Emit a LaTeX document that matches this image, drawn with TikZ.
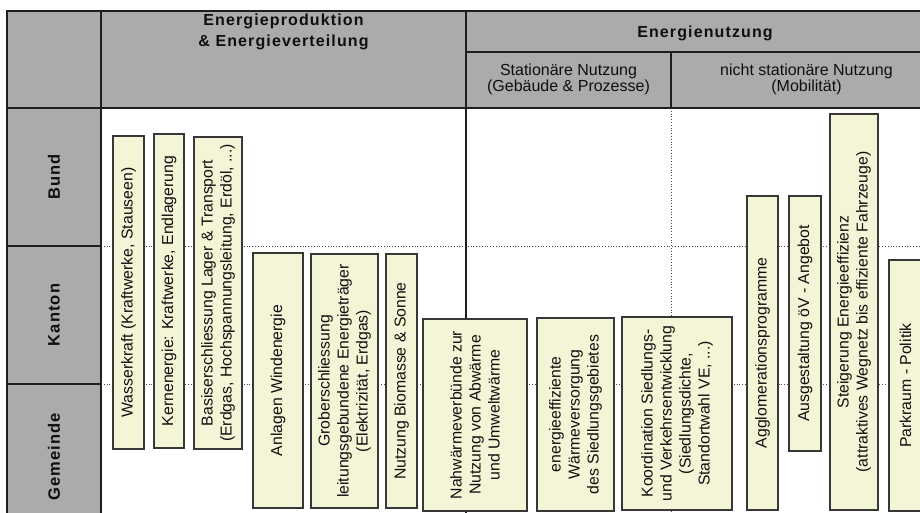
\documentclass[tikz,border=0pt]{standalone}
\usepackage{fontspec}
\setmainfont{Liberation Sans}
\newfontfamily\hdrfont{Liberation Sans}[LetterSpace=7]
\definecolor{hdrgray}{RGB}{171,171,171}
\definecolor{boxfill}{RGB}{243,245,214}
\definecolor{boxline}{RGB}{55,55,55}
\definecolor{gridline}{RGB}{30,30,30}
\definecolor{txt}{RGB}{15,15,15}
\tikzset{
  frame/.style={draw=gridline, line width=1.4pt},
  dotline/.style={draw=gridline!80, line width=0.8pt, dotted},
  hdr/.style={font=\hdrfont\bfseries\fontsize{16}{20.5}\selectfont, text=txt, align=center, inner sep=0pt},
  sub/.style={font=\fontsize{16}{16.3}\selectfont, text=txt, align=center, inner sep=0pt},
  rowlab/.style={font=\hdrfont\bfseries\fontsize{16.5}{19}\selectfont, text=txt, rotate=90, inner sep=0pt},
  box/.style={draw=boxline, fill=boxfill, line width=1.1pt, rotate=90, align=center,
    inner sep=1pt, text=txt, font=\fontsize{15.8}{19}\selectfont},
}
\newcommand\mybox[6]{\node[box, minimum width={#5-#3}, minimum height={#4-#2}] (#1) at ({(#2+#4)/2},{(#3+#5)/2}) {#6};}
\begin{document}
\begin{tikzpicture}[x=1pt,y=-1pt]
\useasboundingbox (0,0) rectangle (920,513);
\clip (0,0) rectangle (920,513);
% backgrounds
\fill[hdrgray] (7,11) rectangle (944,108);
\fill[hdrgray] (7,108) rectangle (101,530);
% dotted grid
\draw[dotline] (101,246) -- (944,246);
\draw[dotline] (101,384) -- (944,384);
\draw[dotline] (671,108) -- (671,530);
% solid frame
\draw[frame] (944,11) -- (7,11) -- (7,530);
\draw[frame] (7,108) -- (944,108);
\draw[frame] (101,11) -- (101,530);
\draw[frame] (466,11) -- (466,530);
\draw[frame] (466,52) -- (944,52);
\draw[frame] (671,52) -- (671,108);
\draw[frame] (7,246) -- (101,246);
\draw[frame] (7,384) -- (101,384);
% headers
\node[hdr] (h1) at (283.5,32) {Energieproduktion\\\& Energieverteilung};
\node[hdr, anchor=base] (h2) at (705,37.5) {Energienutzung};
\node[sub] (h3) at (568.5,79.5) {Stationäre Nutzung\\(Gebäude \& Prozesse)};
\node[sub] (h4) at (806.5,79.5) {nicht stationäre Nutzung\\(Mobilität)};
% row labels
\node[rowlab] (r1) at (54,177) {Bund};
\node[rowlab] (r2) at (54,315) {Kanton};
\node[rowlab] (r3) at (54,457) {Gemeinde};
% boxes: name, x1, y1, x2, y2, text
\mybox{b1}{113}{136}{144}{449}{Wasserkraft (Kraftwerke, Stauseen)}
\mybox{b2}{154}{134}{184}{448}{Kernenergie: Kraftwerke, Endlagerung}
\mybox{b3}{194}{137}{242}{449}{Basiserschliessung Lager \& Transport\\(Erdgas, Hochspannungsleitung, Erdöl, ...)}
\mybox{b4}{253}{253}{303}{508}{Anlagen Windenergie}
\mybox{b5}{311}{254}{378}{508}{Groberschliessung\\leitungsgebundene Energieträger\\(Elektrizität, Erdgas)}
\mybox{b6}{386}{254}{417}{508}{Nutzung Biomasse \& Sonne}
\mybox{b7}{423}{319}{527}{511}{Nahwärmeverbünde zur\\Nutzung von Abwärme\\und Umweltwärme}
\mybox{b8}{537}{318}{614}{511}{energieeffiziente\\Wärmeversorgung\\des Siedlungsgebietes}
\mybox{b9}{622}{317}{732}{510}{Koordination Siedlungs-\\und Verkehrsentwicklung\\(Siedlungsdichte,\\Standortwahl VE, ...)}
\mybox{b10}{747}{196}{778}{510}{Agglomerationsprogramme}
\mybox{b11}{789}{196}{821}{451}{Ausgestaltung öV - Angebot}
\mybox{b12}{830}{114}{878}{510}{Steigerung Energieeffizienz\\(attraktives Wegnetz bis effiziente Fahrzeuge)}
\mybox{b13}{889}{260}{922}{511}{Parkraum - Politik}
\end{tikzpicture}
\end{document}
